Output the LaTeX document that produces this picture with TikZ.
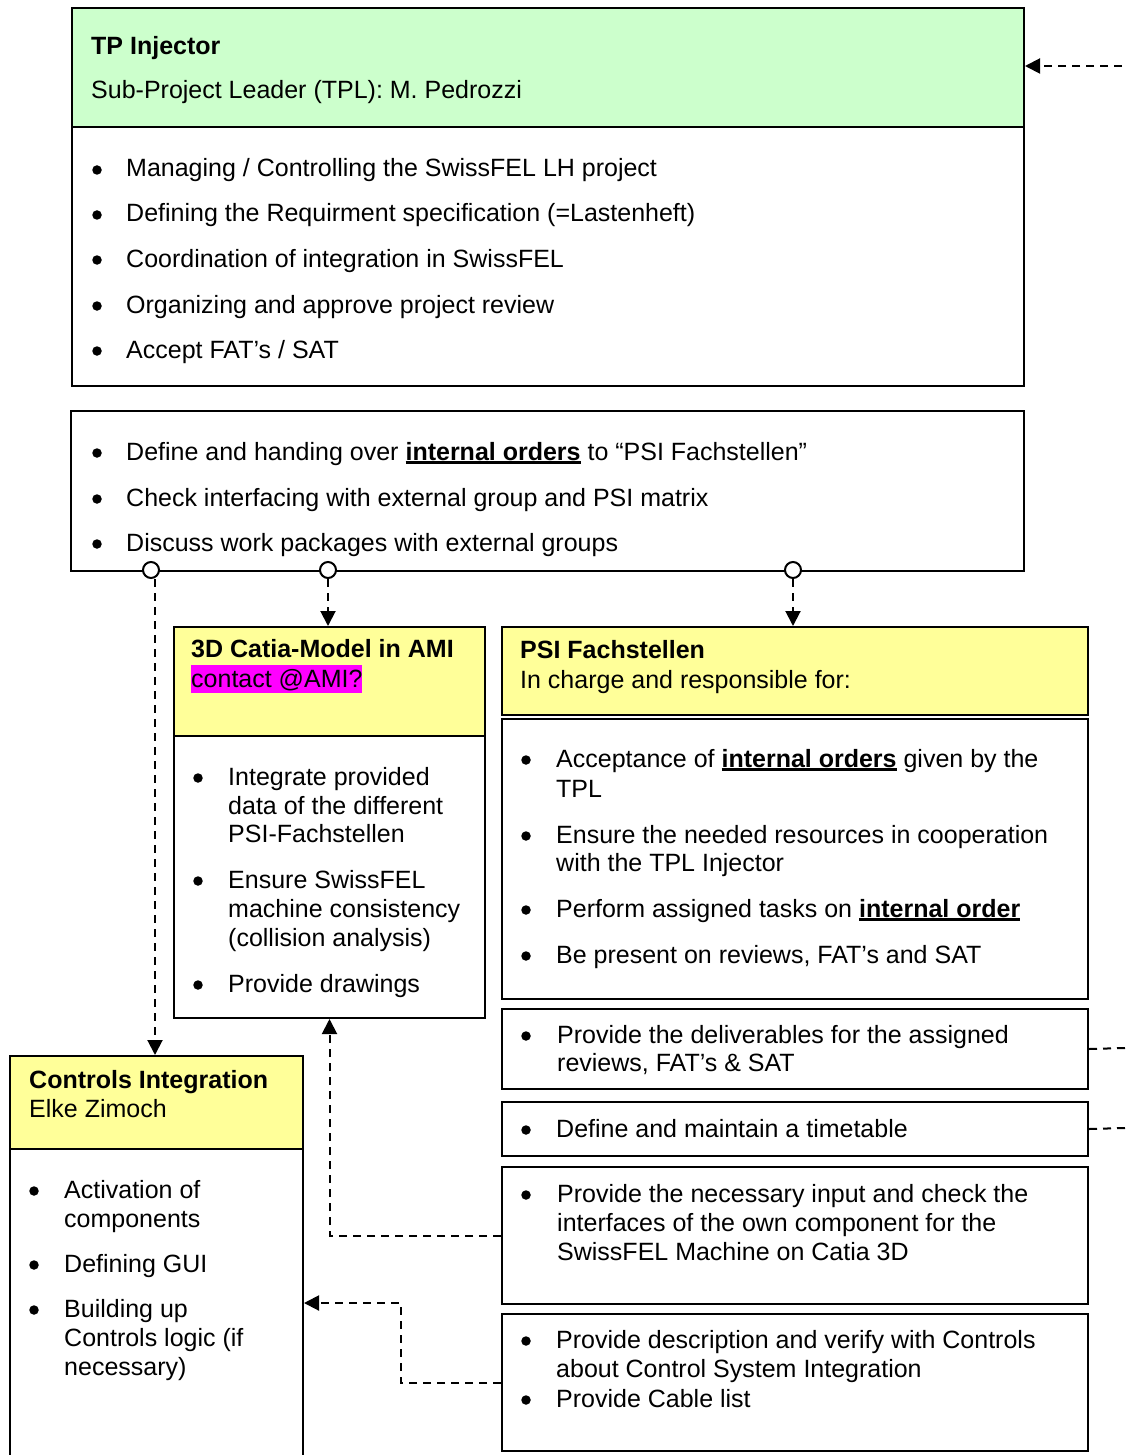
\documentclass[tikz,border=0pt]{standalone}
\usepackage{fontspec}
\setmainfont{Liberation Sans}
\usetikzlibrary{arrows.meta}
\definecolor{hdgreen}{RGB}{204,255,204}
\definecolor{hdyellow}{RGB}{255,255,153}
\definecolor{hilite}{RGB}{255,0,255}
\newcommand\myul[1]{\setbox0\hbox{#1}\rlap{\rule[-3.5pt]{\wd0}{2.2pt}}\box0\relax}
\newcommand\mybul[3]{\node[bulst] (#1) at (#2,#3-7) {};}
\newcommand\myln[4]{\node[txt] (#1) at (#2,#3) {#4};}
\tikzset{
  frame/.style={draw, line width=2pt, anchor=north west, inner sep=0pt},
  txt/.style={anchor=base west, inner sep=0pt, font=\fontsize{25}{28.5}\selectfont},
  bulst/.style={circle, fill=black, minimum size=9.5pt, inner sep=0pt},
  conn/.style={line width=2pt, dash pattern=on 8pt off 6pt},
  arr/.style={conn, -{Triangle[length=15pt,width=15pt]}},
  port/.style={circle, draw, fill=white, line width=2pt, minimum size=16pt, inner sep=0pt}
}
\begin{document}
\begin{tikzpicture}[x=1pt,y=-1pt]
\useasboundingbox (0,0) rectangle (1125,1455);
% ---------- boxes ----------
\node[frame, fill=hdgreen, minimum width=952pt, minimum height=119pt] (tphead) at (71,7) {};
\node[frame, minimum width=952pt, minimum height=259pt] (tpbody) at (71,126) {};
\node[frame, minimum width=953pt, minimum height=160pt] (tasks) at (70,410) {};
\node[frame, fill=hdyellow, minimum width=311pt, minimum height=109pt] (catiahead) at (173,626) {};
\node[frame, minimum width=311pt, minimum height=282pt] (catiabody) at (173,735) {};
\node[frame, fill=hdyellow, minimum width=586pt, minimum height=88pt] (psihead) at (501,626) {};
\node[frame, minimum width=586pt, minimum height=280pt] (psibody) at (501,718) {};
\node[frame, minimum width=586pt, minimum height=80pt] (deliv) at (501,1008) {};
\node[frame, minimum width=586pt, minimum height=54pt] (timet) at (501,1101) {};
\node[frame, minimum width=586pt, minimum height=137pt] (input) at (501,1166) {};
\node[frame, minimum width=586pt, minimum height=137pt] (descr) at (501,1313) {};
\node[frame, fill=hdyellow, minimum width=293pt, minimum height=93pt] (ctrlhead) at (9,1055) {};
\node[frame, minimum width=293pt, minimum height=330pt] (ctrlbody) at (9,1148) {};
% ---------- headers ----------
\myln{tptitle}{91}{55}{\textbf{TP Injector}}
\myln{tpsub}{91}{99}{Sub-Project Leader (TPL): M. Pedrozzi}
\myln{catiatitle}{191}{657}{\textbf{3D Catia-Model in AMI}}
\node[txt, fill=hilite, text height=22pt, text depth=6pt] (catiasub) at (191,687) {contact @AMI?};
\myln{psititle}{520}{658}{\textbf{PSI Fachstellen}}
\myln{psisub}{520}{688}{In charge and responsible for:}
\myln{ctrltitle}{29}{1088}{\textbf{Controls Integration}}
\myln{ctrlsub}{29}{1117}{Elke Zimoch}
% ---------- TP body ----------
\mybul{b1}{97}{177}\myln{l1}{126}{177}{Managing / Controlling the SwissFEL LH project}
\mybul{b2}{97}{222}\myln{l2}{126}{222}{Defining the Requirment specification (=Lastenheft)}
\mybul{b3}{97}{267}\myln{l3}{126}{267}{Coordination of integration in SwissFEL}
\mybul{b4}{97}{313}\myln{l4}{126}{313}{Organizing and approve project review}
\mybul{b5}{97}{358}\myln{l5}{126}{358}{Accept FAT’s / SAT}
% ---------- tasks ----------
\mybul{b6}{97}{460}\myln{l6}{126}{460}{Define and handing over \myul{\textbf{internal orders}} to “PSI Fachstellen”}
\mybul{b7}{97}{506}\myln{l7}{126}{506}{Check interfacing with external group and PSI matrix}
\mybul{b8}{97}{551}\myln{l8}{126}{551}{Discuss work packages with external groups}
% ---------- Catia body ----------
\mybul{b9}{198}{785}\myln{l9a}{228}{785}{Integrate provided}
\myln{l9b}{228}{814}{data of the different}
\myln{l9c}{228}{842}{PSI-Fachstellen}
\mybul{b10}{198}{888}\myln{l10a}{228}{888}{Ensure SwissFEL}
\myln{l10b}{228}{917}{machine consistency}
\myln{l10c}{228}{946}{(collision analysis)}
\mybul{b11}{198}{992}\myln{l11}{228}{992}{Provide drawings}
% ---------- PSI body ----------
\mybul{b12}{526}{767}\myln{l12a}{556}{767}{Acceptance of \myul{\textbf{internal orders}} given by the}
\myln{l12b}{556}{797}{TPL}
\mybul{b13}{526}{843}\myln{l13a}{556}{843}{Ensure the needed resources in cooperation}
\myln{l13b}{556}{871}{with the TPL Injector}
\mybul{b14}{526}{917}\myln{l14}{556}{917}{Perform assigned tasks on \myul{\textbf{internal order}}}
\mybul{b15}{526}{963}\myln{l15}{556}{963}{Be present on reviews, FAT’s and SAT}
% ---------- small boxes ----------
\mybul{b16}{526}{1043}\myln{l16a}{557}{1043}{Provide the deliverables for the assigned}
\myln{l16b}{557}{1071}{reviews, FAT’s \& SAT}
\mybul{b17}{526}{1137}\myln{l17}{556}{1137}{Define and maintain a timetable}
\mybul{b18}{526}{1202}\myln{l18a}{557}{1202}{Provide the necessary input and check the}
\myln{l18b}{557}{1231}{interfaces of the own component for the}
\myln{l18c}{557}{1260}{SwissFEL Machine on Catia 3D}
\mybul{b19}{526}{1348}\myln{l19a}{556}{1348}{Provide description and verify with Controls}
\myln{l19b}{556}{1377}{about Control System Integration}
\mybul{b20}{526}{1407}\myln{l20}{556}{1407}{Provide Cable list}
% ---------- Controls body ----------
\mybul{b21}{34}{1198}\myln{l21a}{64}{1198}{Activation of}
\myln{l21b}{64}{1227}{components}
\mybul{b22}{34}{1272}\myln{l22}{64}{1272}{Defining GUI}
\mybul{b23}{34}{1317}\myln{l23a}{64}{1317}{Building up}
\myln{l23b}{64}{1346}{Controls logic (if}
\myln{l23c}{64}{1375}{necessary)}
% ---------- connectors ----------
\coordinate (ext1) at (1122,66);
\coordinate (ext2) at (1125,1048);
\coordinate (ext3) at (1125,1128);
\coordinate (kink) at (401,1303);
\draw[arr] (ext1) -- (ext1 -| tphead.east);
\draw[conn] (deliv.east) -- (ext2);
\draw[conn] (timet.east) -- (ext3);
\node[port] (c1) at (151,570) {};
\node[port] (c2) at (328,570) {};
\node[port] (c3) at (793,570) {};
\draw[arr] (c2.south) -- (c2.south |- catiahead.north);
\draw[arr] (c3.south) -- (c3.south |- psihead.north);
\draw[arr] ([xshift=4pt]c1.south) -- ([xshift=4pt]c1.south |- ctrlhead.north);
\draw[arr] (input.west) -| (catiabody.south);
\draw[arr] (descr.west) -| (kink) -- (kink -| ctrlbody.east);
\end{tikzpicture}
\end{document}
